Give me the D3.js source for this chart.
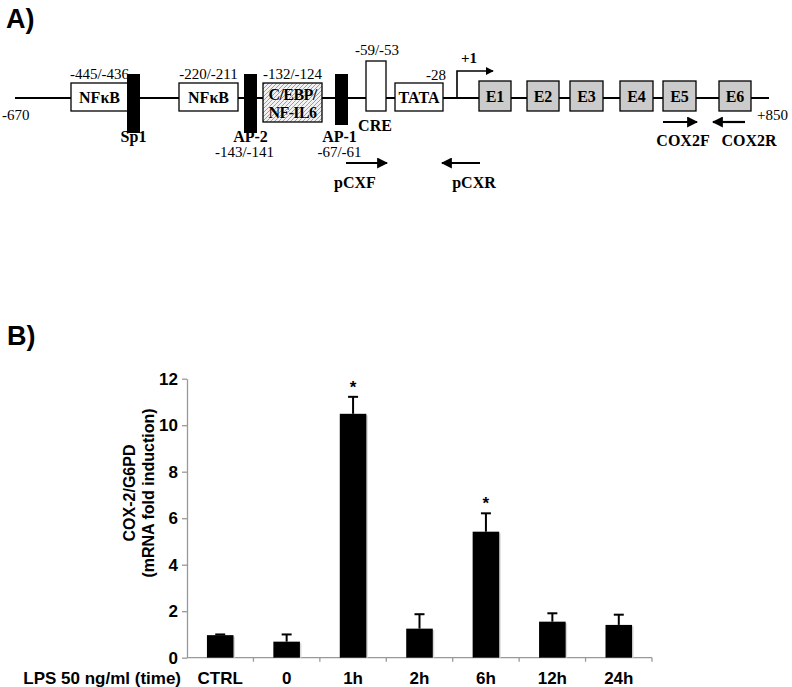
<!DOCTYPE html>
<html>
<head>
<meta charset="utf-8">
<script src="https://cdn.jsdelivr.net/npm/d3@7"></script>
<style>
  body { margin: 0; background: #fff; }
  svg { display: block; }
</style>
</head>
<body>
<div id="chart"></div>
<script>
// ---- Panel A: promoter map (schematic units along the gene track) ----
const trackEnds = [{ label: "-670", pos: 0 }, { label: "+850", pos: 754 }];
const whiteBoxes = [
  { label: "NF\u03BAB", start: 56, end: 113, site: "-445/-436" },
  { label: "NF\u03BAB", start: 164, end: 223, site: "-220/-211" },
  { label: "TATA", start: 380, end: 428, site: "-28" }
];
const blackBars = [
  { label: "Sp1", start: 112, end: 125, site: "" },
  { label: "AP-2", start: 229, end: 242, site: "-143/-141" },
  { label: "AP-1", start: 320, end: 333, site: "-67/-61" }
];
const exons = [
  { label: "E1", start: 464, end: 496 },
  { label: "E2", start: 512, end: 544 },
  { label: "E3", start: 555, end: 588 },
  { label: "E4", start: 605, end: 638 },
  { label: "E5", start: 648, end: 681 },
  { label: "E6", start: 704, end: 736 }
];
const primers = [
  { label: "pCXF", from: 331, to: 372, row: 0 },
  { label: "pCXR", from: 465, to: 427, row: 0 },
  { label: "COX2F", from: 648, to: 682, row: 1 },
  { label: "COX2R", from: 730, to: 698, row: 1 }
];

// ---- Panel B: qPCR bar chart ----
const categories = ["CTRL", "0", "1h", "2h", "6h", "12h", "24h"];
const means = [0.97, 0.69, 10.49, 1.25, 5.42, 1.55, 1.41];
const errors = [0.03, 0.31, 0.73, 0.62, 0.79, 0.36, 0.44];
const significant = [false, false, true, false, true, false, false];
const yTicks = [0, 2, 4, 6, 8, 10, 12];

const width = 792, height = 687;
const serif = "'Liberation Serif', 'Times New Roman', serif";
const sans = "'Liberation Sans', Arial, sans-serif";

const svg = d3.select("#chart").append("svg")
  .attr("width", width).attr("height", height);

const defs = svg.append("defs");
const hatch = defs.append("pattern")
  .attr("id", "hatch").attr("patternUnits", "userSpaceOnUse")
  .attr("width", 4).attr("height", 4);
hatch.append("rect").attr("width", 4).attr("height", 4).attr("fill", "#f2f2f2");
hatch.append("path").attr("d", "M-1,1 l2,-2 M0,4 l4,-4 M3,5 l2,-2")
  .attr("stroke", "#8a8a8a").attr("stroke-width", 0.8);

const arrowDefs = defs.append("marker")
  .attr("id", "arrow").attr("viewBox", "0 0 10 10")
  .attr("refX", 9).attr("refY", 5)
  .attr("markerWidth", 5).attr("markerHeight", 5)
  .attr("orient", "auto");
arrowDefs.append("path").attr("d", "M0,0 L10,5 L0,10 z").attr("fill", "#000");

// panel letters
svg.append("text").attr("x", 6).attr("y", 28).text("A)")
  .attr("font-family", sans).attr("font-weight", "bold").attr("font-size", 27);
svg.append("text").attr("x", 7).attr("y", 345).text("B)")
  .attr("font-family", sans).attr("font-weight", "bold").attr("font-size", 27);

// ---------- Panel A ----------
const gA = svg.append("g");
const tx = d3.scaleLinear().domain([0, 754]).range([15, 769]);
const lineY = 98;

gA.append("line")
  .attr("x1", tx(trackEnds[0].pos)).attr("x2", tx(trackEnds[1].pos))
  .attr("y1", lineY).attr("y2", lineY)
  .attr("stroke", "#000").attr("stroke-width", 2);

gA.append("text").attr("x", 2).attr("y", 120).text(trackEnds[0].label)
  .attr("font-family", serif).attr("font-size", 15);
gA.append("text").attr("x", 757).attr("y", 120).text(trackEnds[1].label)
  .attr("font-family", serif).attr("font-size", 15);

// white boxes
whiteBoxes.forEach(d => {
  const x0 = tx(d.start), x1 = tx(d.end);
  gA.append("rect").attr("x", x0).attr("y", 83).attr("width", x1 - x0).attr("height", 28)
    .attr("fill", "#fff").attr("stroke", "#000").attr("stroke-width", 1.3);
  gA.append("text").attr("x", (x0 + x1) / 2).attr("y", 103).text(d.label)
    .attr("text-anchor", "middle").attr("font-family", serif)
    .attr("font-weight", "bold").attr("font-size", 16);
  if (d.label === "TATA") {
    gA.append("text").attr("x", x1 + 3).attr("y", 80).text(d.site)
      .attr("text-anchor", "end").attr("font-family", serif).attr("font-size", 15);
  } else {
    gA.append("text").attr("x", (x0 + x1) / 2).attr("y", 79).text(d.site)
      .attr("text-anchor", "middle").attr("font-family", serif).attr("font-size", 15);
  }
});

// C/EBP hatched box
(() => {
  const x0 = tx(248), x1 = tx(307);
  gA.append("rect").attr("x", x0).attr("y", 83).attr("width", x1 - x0).attr("height", 39)
    .attr("fill", "url(#hatch)").attr("stroke", "#000").attr("stroke-width", 1.3);
  ["C/EBP/", "NF-IL6"].forEach((t, i) => {
    gA.append("text").attr("x", (x0 + x1) / 2).attr("y", 100 + i * 18).text(t)
      .attr("text-anchor", "middle").attr("font-family", serif)
      .attr("font-weight", "bold").attr("font-size", 16).attr("letter-spacing", -0.6)
      .attr("stroke", "#fff").attr("stroke-width", 0.4).attr("paint-order", "stroke");
  });
  gA.append("text").attr("x", (x0 + x1) / 2).attr("y", 79).text("-132/-124")
    .attr("text-anchor", "middle").attr("font-family", serif).attr("font-size", 15);
})();

// CRE box
(() => {
  const x0 = tx(351), x1 = tx(371);
  gA.append("rect").attr("x", x0).attr("y", 61).attr("width", x1 - x0).attr("height", 50)
    .attr("fill", "#fff").attr("stroke", "#000").attr("stroke-width", 1.3);
  gA.append("text").attr("x", (x0 + x1) / 2 + 1).attr("y", 55).text("-59/-53")
    .attr("text-anchor", "middle").attr("font-family", serif).attr("font-size", 15);
  gA.append("text").attr("x", (x0 + x1) / 2 - 1).attr("y", 131).text("CRE")
    .attr("text-anchor", "middle").attr("font-family", serif)
    .attr("font-weight", "bold").attr("font-size", 16);
})();

// black bars
blackBars.forEach((d, i) => {
  const x0 = tx(d.start), x1 = tx(d.end);
  const h = i === 2 ? 51 : 59;
  gA.append("rect").attr("x", x0).attr("y", 74).attr("width", x1 - x0).attr("height", h)
    .attr("fill", "#000");
  const cx = (x0 + x1) / 2;
  gA.append("text").attr("x", cx - (i === 2 ? 2 : 0)).attr("y", 142).text(d.label)
    .attr("text-anchor", "middle").attr("font-family", serif)
    .attr("font-weight", "bold").attr("font-size", 16);
  if (d.site) {
    gA.append("text").attr("x", cx - (i === 2 ? 2 : 6)).attr("y", 157).text(d.site)
      .attr("text-anchor", "middle").attr("font-family", serif).attr("font-size", 15);
  }
});

// transcription start
(() => {
  const x = tx(442);
  gA.append("path")
    .attr("d", `M${x},${lineY} V71 H${tx(478)}`)
    .attr("fill", "none").attr("stroke", "#000").attr("stroke-width", 1.6)
    .attr("marker-end", "url(#arrow)");
  gA.append("text").attr("x", x + 4).attr("y", 63).text("+1")
    .attr("font-family", serif).attr("font-weight", "bold").attr("font-size", 15);
})();

// exons
exons.forEach(d => {
  const x0 = tx(d.start), x1 = tx(d.end);
  gA.append("rect").attr("x", x0).attr("y", 81).attr("width", x1 - x0).attr("height", 30)
    .attr("fill", "#cbcbcb").attr("stroke", "#000").attr("stroke-width", 1.3);
  gA.append("text").attr("x", (x0 + x1) / 2).attr("y", 102).text(d.label)
    .attr("text-anchor", "middle").attr("font-family", serif)
    .attr("font-weight", "bold").attr("font-size", 16);
});

// primers
primers.forEach(d => {
  const y = d.row === 0 ? 163 : 122;
  const ly = d.row === 0 ? 188 : 146;
  const x0 = tx(d.from), x1 = tx(d.to);
  gA.append("line").attr("x1", x0).attr("x2", x1).attr("y1", y).attr("y2", y)
    .attr("stroke", "#000").attr("stroke-width", 2.2).attr("marker-end", "url(#arrow)");
  let lx;
  if (d.label === "pCXF") lx = 355;
  else if (d.label === "pCXR") lx = 474;
  else if (d.label === "COX2F") lx = 683;
  else lx = 749;
  gA.append("text").attr("x", lx).attr("y", ly).text(d.label)
    .attr("text-anchor", "middle").attr("font-family", serif)
    .attr("font-weight", "bold").attr("font-size", 16);
});

// ---------- Panel B ----------
const gB = svg.append("g");
const x = d3.scaleBand().domain(categories).range([187, 652]).paddingInner(0).paddingOuter(0);
const y = d3.scaleLinear().domain([0, 12]).range([657.7, 378.7]);
const axisColor = "#999";

// y axis
const yAxis = gB.append("g").attr("transform", "translate(187,0)")
  .call(d3.axisLeft(y).tickValues(yTicks).tickSize(5).tickPadding(4).tickSizeOuter(0));
yAxis.select(".domain").attr("stroke", axisColor).attr("stroke-width", 1.3);
yAxis.selectAll(".tick line").attr("stroke", axisColor).attr("stroke-width", 1.3);
yAxis.selectAll(".tick text")
  .attr("font-family", sans).attr("font-weight", "bold").attr("font-size", 17).attr("fill", "#000");

// x axis baseline and boundary ticks
gB.append("line").attr("x1", 187).attr("x2", 652).attr("y1", y(0)).attr("y2", y(0))
  .attr("stroke", axisColor).attr("stroke-width", 1.3);
gB.selectAll(".xb").data(categories).join("line")
  .attr("x1", d => x(d) + x.bandwidth()).attr("x2", d => x(d) + x.bandwidth())
  .attr("y1", y(0)).attr("y2", y(0) + 4)
  .attr("stroke", axisColor).attr("stroke-width", 1.3);
gB.selectAll(".xl").data(categories).join("text")
  .attr("x", d => x(d) + x.bandwidth() / 2).attr("y", 684)
  .attr("text-anchor", "middle").text(d => d)
  .attr("font-family", sans).attr("font-weight", "bold").attr("font-size", 17);
gB.append("text").attr("x", 181).attr("y", 684).attr("text-anchor", "end")
  .text("LPS 50 ng/ml (time)")
  .attr("font-family", sans).attr("font-weight", "bold").attr("font-size", 17);

// y title
const yt = gB.append("text").attr("transform", "translate(135,493) rotate(-90)")
  .attr("text-anchor", "middle").attr("font-family", sans)
  .attr("font-weight", "bold").attr("font-size", 16);
yt.append("tspan").attr("x", 0).attr("dy", 0).text("COX-2/G6PD");
yt.append("tspan").attr("x", 0).attr("dy", 19).text("(mRNA fold induction)");

// bars
const bw = x.bandwidth() * 0.4;
const rows = categories.map((c, i) => ({ c, m: means[i], e: errors[i], s: significant[i] }));

gB.selectAll(".shadow").data(rows).join("rect")
  .attr("x", d => x(d.c) + (x.bandwidth() - bw) / 2 + 1.5)
  .attr("y", d => y(d.m) + 1.5)
  .attr("width", bw).attr("height", d => y(0) - y(d.m) - 1.5)
  .attr("fill", "#d8d8d8");

gB.selectAll(".bar").data(rows).join("rect")
  .attr("x", d => x(d.c) + (x.bandwidth() - bw) / 2)
  .attr("y", d => y(d.m))
  .attr("width", bw).attr("height", d => y(0) - y(d.m))
  .attr("fill", "#000");

// error bars (upper only)
gB.selectAll(".err").data(rows).join("line")
  .attr("x1", d => x(d.c) + x.bandwidth() / 2).attr("x2", d => x(d.c) + x.bandwidth() / 2)
  .attr("y1", d => y(d.m)).attr("y2", d => y(d.m + d.e))
  .attr("stroke", "#000").attr("stroke-width", 2);
gB.selectAll(".cap").data(rows).join("line")
  .attr("x1", d => x(d.c) + x.bandwidth() / 2 - 5).attr("x2", d => x(d.c) + x.bandwidth() / 2 + 5)
  .attr("y1", d => y(d.m + d.e)).attr("y2", d => y(d.m + d.e))
  .attr("stroke", "#000").attr("stroke-width", 2);

// significance marks
gB.selectAll(".star").data(rows.filter(d => d.s)).join("text")
  .attr("x", d => x(d.c) + x.bandwidth() / 2)
  .attr("y", d => y(d.m + d.e) - 4)
  .attr("text-anchor", "middle").text("*")
  .attr("font-family", sans).attr("font-weight", "bold").attr("font-size", 17);
</script>
</body>
</html>
